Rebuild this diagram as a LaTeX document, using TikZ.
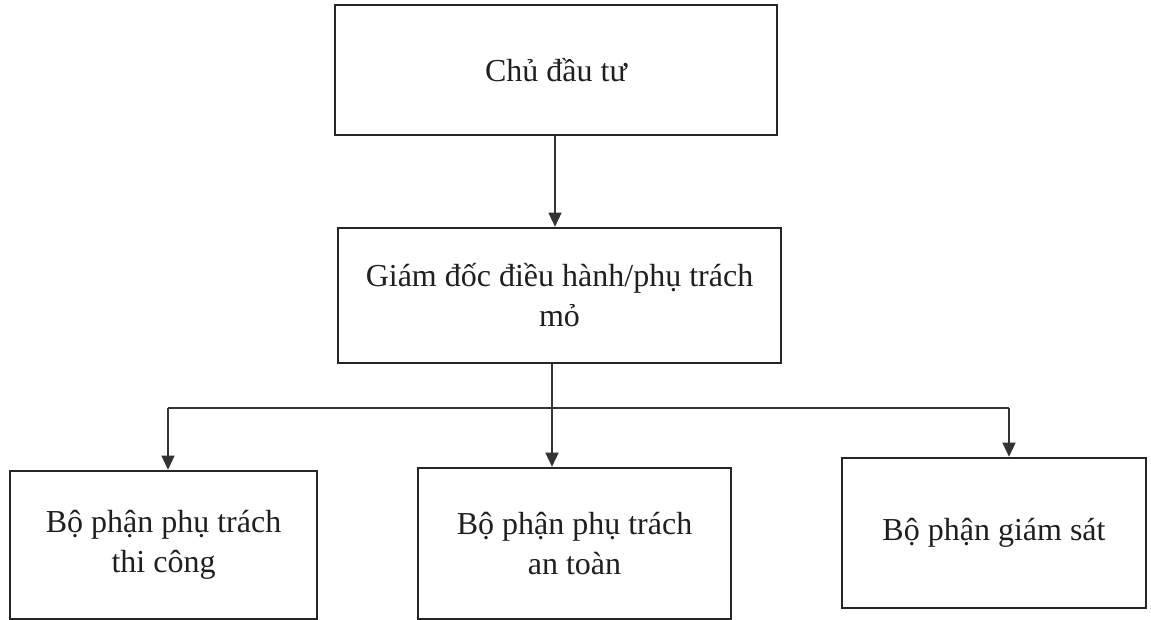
\documentclass[tikz,border=0pt]{standalone}
\usepackage{fontspec}
\setmainfont{Liberation Serif}
\usetikzlibrary{arrows.meta}
\begin{document}
\begin{tikzpicture}[x=1pt,y=-1pt,
  box/.style={draw=black!85, line width=2.6pt, rectangle, align=center, inner sep=0pt,
    font=\fontsize{32}{40}\selectfont, text=black!88},
  conn/.style={draw=black!80, line width=1.4pt},
  arr/.style={conn, -{Triangle[length=14pt,width=13pt]}}]
\useasboundingbox (0,0) rectangle (1151,620);
\node[box, minimum width=442pt, minimum height=130pt] (top) at (556,70) {Chủ đầu tư};
\node[box, minimum width=443pt, minimum height=135pt] (mid) at (559.5,295.5) {Giám đốc điều hành/phụ trách\\mỏ};
\node[box, minimum width=307pt, minimum height=148pt] (left) at (163.5,545) {Bộ phận phụ trách\\thi công};
\node[box, minimum width=313pt, minimum height=151pt] (center) at (574.5,543.5) {Bộ phận phụ trách\\an toàn};
\node[box, minimum width=304pt, minimum height=150pt] (right) at (994,533) {Bộ phận giám sát};
\coordinate (bl) at (168,408);
\coordinate (bm) at (552,408);
\coordinate (br) at (1009,408);
\draw[arr] (top.south -| 555,0) -- (mid.north -| 555,0);
\draw[conn] (mid.south -| bm) -- (bm);
\draw[conn] (bl) -- (br);
\draw[arr] (bl) -- (left.north -| bl);
\draw[arr] (bm) -- (center.north -| bm);
\draw[arr] (br) -- (right.north -| br);
\end{tikzpicture}
\end{document}
